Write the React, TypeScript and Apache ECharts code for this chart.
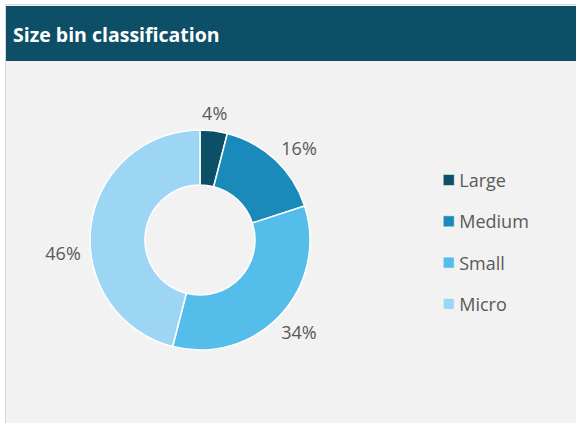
import React, { useEffect, useRef } from "react";
import * as echarts from "echarts";

const categories = ["Large", "Medium", "Small", "Micro"];
const values = [4, 16, 34, 46];
const colors = ["#0e4f68", "#1a8aba", "#55bde9", "#9dd6f5"];
const titleText = "Size bin classification";

// label nudges (px) to mimic the spreadsheet's "best fit" placement
const labelNudges: [number, number][] = [[-2, 5], [8, 5], [2, 1], [-5, 30]];

export default function App() {
  const ref = useRef<HTMLDivElement>(null);
  useEffect(() => {
    if (!ref.current) return;
    const chart = echarts.init(ref.current, null, { renderer: "svg" });
    const data = categories.map((c, i) => ({ name: c, value: values[i], itemStyle: { color: colors[i] } }));
    chart.setOption({
      animation: false,
      backgroundColor: "#ffffff",
      graphic: [
        { type: "rect", z: -10, shape: { x: 5.5, y: 4.5, width: 580, height: 430 }, style: { fill: "#f2f2f2", stroke: "#d9d9d9", lineWidth: 1 } },
        { type: "rect", z: -9, shape: { x: 6, y: 6, width: 580, height: 55 }, style: { fill: "#0e4f68" } },
        {
          type: "text", z: 10, x: 13, y: 34.5,
          style: { text: titleText, fill: "#ffffff", font: "bold 19.5px 'Open Sans', sans-serif", textVerticalAlign: "middle" },
        },
      ],
      legend: {
        orient: "vertical",
        left: 443,
        top: 170,
        padding: 0,
        icon: "rect",
        itemWidth: 11,
        itemHeight: 11,
        itemGap: 21.3,
        itemStyle: { borderColor: "#ffffff", borderWidth: 0.5 },
        textStyle: { color: "#595959", fontSize: 18, fontFamily: "'Open Sans', sans-serif", lineHeight: 20 },
        data: categories,
        selectedMode: false,
      },
      series: [
        {
          type: "pie",
          center: [200, 240],
          radius: [55, 110],
          startAngle: 90,
          clockwise: true,
          silent: true,
          itemStyle: { borderColor: "#ffffff", borderWidth: 1.5 },
          label: { show: false },
          labelLine: { show: false },
          data,
        },
        {
          type: "pie",
          center: [200, 240],
          radius: [120, 140],
          startAngle: 90,
          clockwise: true,
          silent: true,
          legendHoverLink: false,
          itemStyle: { color: "transparent", borderWidth: 0 },
          label: {
            show: true,
            position: "inside",
            formatter: "{c}%",
            color: "#595959",
            fontSize: 18,
            fontFamily: "'Open Sans', sans-serif",
          },
          labelLine: { show: false },
          data: categories.map((c, i) => ({
            name: c + " ",
            value: values[i],
            label: { offset: labelNudges[i] },
          })),
        },
      ],
    });
    return () => chart.dispose();
  }, []);
  return <div ref={ref} style={{ position: "fixed", left: 0, top: 0, width: 576, height: 423 }} />;
}
